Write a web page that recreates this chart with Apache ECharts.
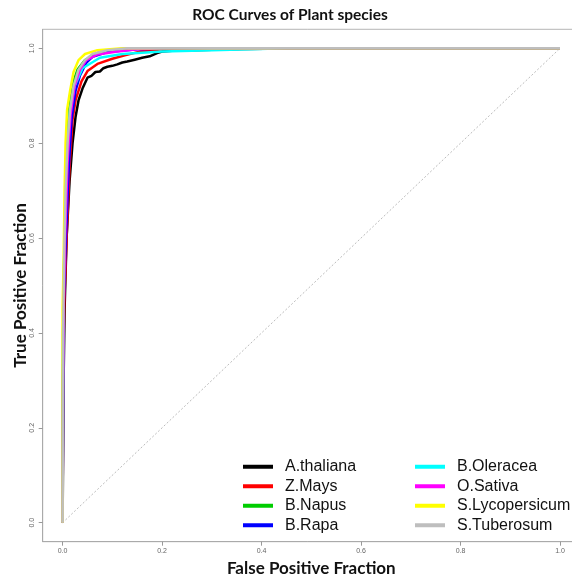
<!DOCTYPE html>
<html>
<head>
<meta charset="utf-8">
<script src="https://cdn.jsdelivr.net/npm/echarts@6/dist/echarts.min.js"></script>
<style>
  html, body { margin: 0; padding: 0; background: #ffffff; }
  #chart { width: 572px; height: 580px; }
</style>
</head>
<body>
<div id="chart"></div>
<script>
// ROC points per species: [false positive fraction, true positive fraction]
const aThaliana = [[0,0],[0.002,0.3],[0.004,0.45],[0.008,0.6],[0.014,0.72],[0.02,0.8],[0.026,0.855],[0.032,0.89],[0.04,0.915],[0.05,0.938],[0.058,0.942],[0.066,0.95],[0.075,0.951],[0.082,0.958],[0.09,0.961],[0.1,0.963],[0.11,0.966],[0.12,0.97],[0.13,0.972],[0.145,0.976],[0.16,0.98],[0.175,0.983],[0.19,0.99],[0.2,0.993],[0.22,0.995],[0.26,0.996],[0.3,0.997],[0.36,0.9985],[0.5,1],[1,1]];
const zMays = [[0,0],[0.001,0.3],[0.003,0.45],[0.008,0.6],[0.014,0.75],[0.02,0.85],[0.026,0.89],[0.032,0.91],[0.038,0.93],[0.05,0.952],[0.07,0.967],[0.1,0.978],[0.125,0.985],[0.155,0.993],[0.2,0.998],[0.25,1],[1,1]];
const bNapus = [[0,0],[0.001,0.4],[0.004,0.6],[0.008,0.8],[0.013,0.88],[0.02,0.925],[0.03,0.955],[0.045,0.975],[0.07,0.99],[0.1,0.997],[0.15,1],[1,1]];
const bRapa = [[0,0],[0.001,0.3],[0.002,0.45],[0.006,0.58],[0.012,0.74],[0.018,0.85],[0.026,0.91],[0.035,0.943],[0.048,0.97],[0.06,0.982],[0.09,0.992],[0.15,0.998],[0.22,1],[1,1]];
const bOleracea = [[0,0],[0.001,0.35],[0.003,0.55],[0.006,0.7],[0.01,0.8],[0.015,0.87],[0.024,0.92],[0.04,0.958],[0.075,0.98],[0.12,0.988],[0.2,0.993],[0.3,0.996],[0.45,1],[1,1]];
const oSativa = [[0,0],[0.001,0.3],[0.002,0.45],[0.005,0.6],[0.01,0.76],[0.016,0.86],[0.024,0.92],[0.035,0.955],[0.048,0.975],[0.07,0.987],[0.11,0.993],[0.15,0.998],[0.2,1],[1,1]];
const sLycopersicum = [[0,0],[0,0.45],[0.002,0.55],[0.004,0.7],[0.006,0.8],[0.009,0.87],[0.015,0.91],[0.022,0.95],[0.032,0.975],[0.045,0.988],[0.07,0.996],[0.12,1],[1,1]];
const sTuberosum = [[0,0],[0.001,0.4],[0.003,0.55],[0.006,0.7],[0.01,0.8],[0.015,0.87],[0.022,0.92],[0.032,0.955],[0.045,0.975],[0.06,0.988],[0.09,0.996],[0.13,1],[1,1]];

const speciesNames = ['A.thaliana','Z.Mays','B.Napus','B.Rapa','B.Oleracea','O.Sativa','S.Lycopersicum','S.Tuberosum'];
const speciesData = [aThaliana, zMays, bNapus, bRapa, bOleracea, oSativa, sLycopersicum, sTuberosum];
const speciesColors = ['#000000','#ff0000','#00cd00','#0000ff','#00ffff','#ff00ff','#ffff00','#bebebe'];
const tickValues = [0, 0.2, 0.4, 0.6, 0.8, 1.0];
const chanceLine = [[0,0],[1,1]];

const chart = echarts.init(document.getElementById('chart'), null, { renderer: 'canvas' });

const tickLabel = {
  customValues: tickValues,
  formatter: v => v.toFixed(1),
  fontSize: 7,
  color: '#666',
  fontFamily: 'Liberation Sans'
};
const tickMark = { customValues: tickValues, length: 4, lineStyle: { color: '#999', width: 1 } };

const legendBase = {
  orient: 'vertical',
  icon: 'rect',
  itemWidth: 30,
  itemHeight: 4,
  itemGap: 0,
  padding: 0,
  top: 457,
  textStyle: {
    fontFamily: 'Liberation Sans',
    fontSize: 16,
    color: '#111',
    lineHeight: 19.5,
    padding: [0, 0, 0, 7]
  }
};

const series = [{
  name: 'chance',
  type: 'line',
  data: chanceLine,
  showSymbol: false,
  silent: true,
  lineStyle: { color: '#aaa', width: 0.8, type: [2, 2] },
  z: 1
}].concat(speciesNames.map((name, i) => ({
  name,
  type: 'line',
  data: speciesData[i],
  showSymbol: false,
  color: speciesColors[i],
  lineStyle: { color: speciesColors[i], width: 2.5 },
  z: 2 + i
})));

chart.setOption({
  animation: false,
  backgroundColor: '#ffffff',
  title: {
    text: 'ROC Curves of Plant species',
    left: 290,
    textAlign: 'center',
    top: 7,
    padding: 0,
    textStyle: { fontFamily: 'Lato', fontWeight: 'bold', fontSize: 15.5, color: '#111' }
  },
  grid: {
    left: 42.7,
    top: 29.3,
    right: -7.9,
    bottom: 38.3,
    containLabel: false,
    outerBoundsMode: 'none',
    show: true,
    borderColor: '#b5b5b5',
    borderWidth: 1
  },
  legend: [
    Object.assign({}, legendBase, { left: 243, data: speciesNames.slice(0, 4) }),
    Object.assign({}, legendBase, { left: 415, data: speciesNames.slice(4) })
  ],
  xAxis: {
    type: 'value',
    min: -0.04,
    max: 1.04,
    name: 'False Positive Fraction',
    nameLocation: 'middle',
    nameGap: 16,
    nameTextStyle: { fontFamily: 'Lato', fontWeight: 'bold', fontSize: 17, color: '#111' },
    axisLine: { onZero: false, lineStyle: { color: '#aaa', width: 1 } },
    axisTick: tickMark,
    axisLabel: Object.assign({ margin: 6 }, tickLabel),
    splitLine: { show: false }
  },
  yAxis: {
    type: 'value',
    min: -0.04,
    max: 1.04,
    name: 'True Positive Fraction',
    nameLocation: 'middle',
    nameGap: 14,
    nameMoveOverlap: false,
    nameRotate: 90,
    nameTextStyle: { fontFamily: 'Lato', fontWeight: 'bold', fontSize: 17, color: '#111' },
    axisLine: { onZero: false, lineStyle: { color: '#aaa', width: 1 } },
    axisTick: tickMark,
    axisLabel: Object.assign({ margin: 7, rotate: 90 }, tickLabel),
    splitLine: { show: false }
  },
  series
});
</script>
</body>
</html>
